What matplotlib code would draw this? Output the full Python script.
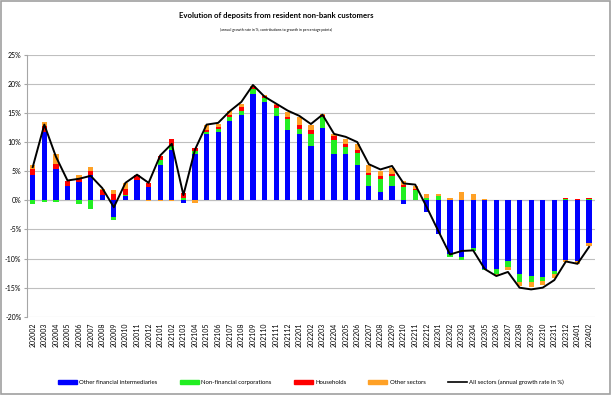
import matplotlib
matplotlib.use("Agg")
import matplotlib.pyplot as plt
import numpy as np
from matplotlib.patches import Rectangle
from matplotlib.lines import Line2D

plt.rcParams['font.family'] = ['Lato', 'DejaVu Sans']

months = ["202002","202003","202004","202005","202006","202007","202008","202009","202010","202011","202012",
          "202101","202102","202103","202104","202105","202106","202107","202108","202109","202110","202111","202112",
          "202201","202202","202203","202204","202205","202206","202207","202208","202209","202210","202211","202212",
          "202301","202302","202303","202304","202305","202306","202307","202308","202309","202310","202311","202312",
          "202401","202402"]

ofi = [4.4, 11.7, 5.4, 2.4, 3.1, 4.3, 0.9, -2.9, 0.7, 3.5, 2.3,
       6.1, 8.6, -0.4, 7.9, 11.3, 11.7, 13.6, 14.7, 18.2, 16.9, 14.5, 12.0,
       11.4, 9.3, 12.5, 7.9, 8.0, 6.0, 2.4, 1.5, 2.5, -0.7, 0.1, -2.0,
       -5.7, -9.3, -9.7, -8.2, -11.8, -11.8, -10.5, -12.6, -13.0, -13.1, -12.2, -10.3,
       -10.5, -7.4]
nfc = [-0.6, -0.3, -0.3, 0.0, -0.7, -1.5, 0.0, -0.4, 0.2, 0.0, 0.0,
       0.8, 0.8, 0.4, 0.5, 0.4, 0.6, 0.7, 0.7, 0.9, 0.6, 1.4, 1.9,
       0.9, 2.0, 1.8, 2.5, 1.1, 2.2, 1.9, 2.2, 1.7, 2.3, 1.6, 0.4,
       0.7, -0.4, -0.5, -0.5, -0.1, -0.8, -0.9, -1.4, -1.0, -0.8, -0.4, 0.3,
       0.0, 0.2]
hh = [0.9, 1.0, 0.9, 0.9, 0.6, 0.8, 0.8, 1.0, 1.1, 0.8, 0.7,
      0.7, 1.1, 0.8, 0.5, 0.4, 0.3, 0.4, 0.6, 0.4, 0.4, 0.4, 0.4,
      0.7, 0.7, 0.4, 0.7, 0.6, 0.4, 0.4, 0.5, 0.4, 0.3, 0.3, 0.0,
      0.0, 0.0, 0.0, 0.0, 0.0, 0.0, 0.0, 0.0, 0.0, 0.0, 0.0, 0.1,
      0.3, 0.2]
other = [0.8, 0.7, 1.7, 0.1, 0.7, 0.6, 0.3, 0.8, 0.9, 0.1, -0.2,
         -0.2, -0.2, 0.1, -0.4, 0.8, 0.5, 0.6, 0.6, 0.1, 0.1, 0.2, 0.8,
         1.3, 1.0, 0.1, 0.3, 0.9, 1.1, 1.3, 0.9, 1.0, 0.8, 0.5, 0.6,
         0.3, 0.4, 1.4, 1.0, 0.3, -0.2, -0.6, -0.7, -0.9, -0.7, -0.7, -0.3,
         -0.4, -0.4]
total = [5.7, 13.0, 7.5, 3.4, 3.7, 4.2, 2.1, -1.2, 3.0, 4.4, 3.0,
         7.7, 9.7, 0.9, 8.7, 13.0, 13.3, 15.3, 16.9, 19.8, 17.8, 16.6, 15.4,
         14.5, 13.1, 14.7, 11.4, 10.9, 10.0, 6.2, 5.3, 5.9, 2.9, 2.7, -1.2,
         -5.3, -9.3, -8.7, -8.6, -11.8, -13.0, -12.3, -15.0, -15.3, -15.0, -13.7, -10.5,
         -10.9, -8.0]

series = [("Other financial intermediaries", ofi, "#0000FF"),
          ("Non-financial corporations", nfc, "#22EE22"),
          ("Households", hh, "#FF0000"),
          ("Other sectors", other, "#FFA126")]

fig = plt.figure(figsize=(6.12, 3.95), dpi=100)
ax = fig.add_axes([0.044, 0.198, 0.928, 0.6635])

x = np.arange(len(months))
pos_bottom = np.zeros(len(months))
neg_bottom = np.zeros(len(months))
handles = []
for name, vals, col in series:
    v = np.array(vals, dtype=float)
    bottom = np.where(v >= 0, pos_bottom, neg_bottom)
    ax.bar(x, v, width=0.45, bottom=bottom, color=col, linewidth=0, zorder=2)
    pos_bottom = pos_bottom + np.where(v >= 0, v, 0)
    neg_bottom = neg_bottom + np.where(v < 0, v, 0)
    handles.append(Rectangle((0, 0), 1, 1, color=col, label=name))

ax.plot(x, total, color="black", lw=1.4, zorder=3)
handles.append(Line2D([0], [0], color="black", lw=1.2, label="All sectors (annual growth rate in %)"))

ax.set_xlim(-0.5, len(months) - 0.5)
ax.set_ylim(-20, 25)
ax.set_yticks(np.arange(-20, 26, 5))
ax.set_yticklabels([f"{v}%" for v in range(-20, 26, 5)], fontsize=5)
ax.set_xticks(x)
ax.set_xticklabels(months, rotation=90, fontsize=5)
ax.grid(axis="y", color="#bfbfbf", lw=0.8, zorder=0)
ax.axhline(0, color="#a6a6a6", lw=0.8, zorder=1)
for s in ["top", "right", "bottom"]:
    ax.spines[s].set_visible(False)
ax.spines["left"].set_color("#a6a6a6")
ax.spines["left"].set_linewidth(0.8)
ax.tick_params(axis="y", length=2, color="#a6a6a6", pad=2)
ax.tick_params(axis="x", length=0, pad=4)

fig.text(0.452, 0.962, "Evolution of deposits from resident non-bank customers",
         ha="center", va="center", fontsize=5.6, fontweight="bold")
fig.text(0.452, 0.925, "(annual growth rate in %, contributions to growth in percentage points)",
         ha="center", va="center", fontsize=2.6)

fig.legend(handles=handles, loc="center", bbox_to_anchor=(0.508, 0.032), ncol=5,
           frameon=False, fontsize=4.3, handlelength=3.2, handleheight=0.5,
           columnspacing=3.7, handletextpad=0.4)

fig.patches.append(Rectangle((0.002, 0.003), 0.995, 0.994, transform=fig.transFigure,
                             fill=False, ec="#a0a0a0", lw=1.2))

fig.savefig("out.png", dpi=100)
